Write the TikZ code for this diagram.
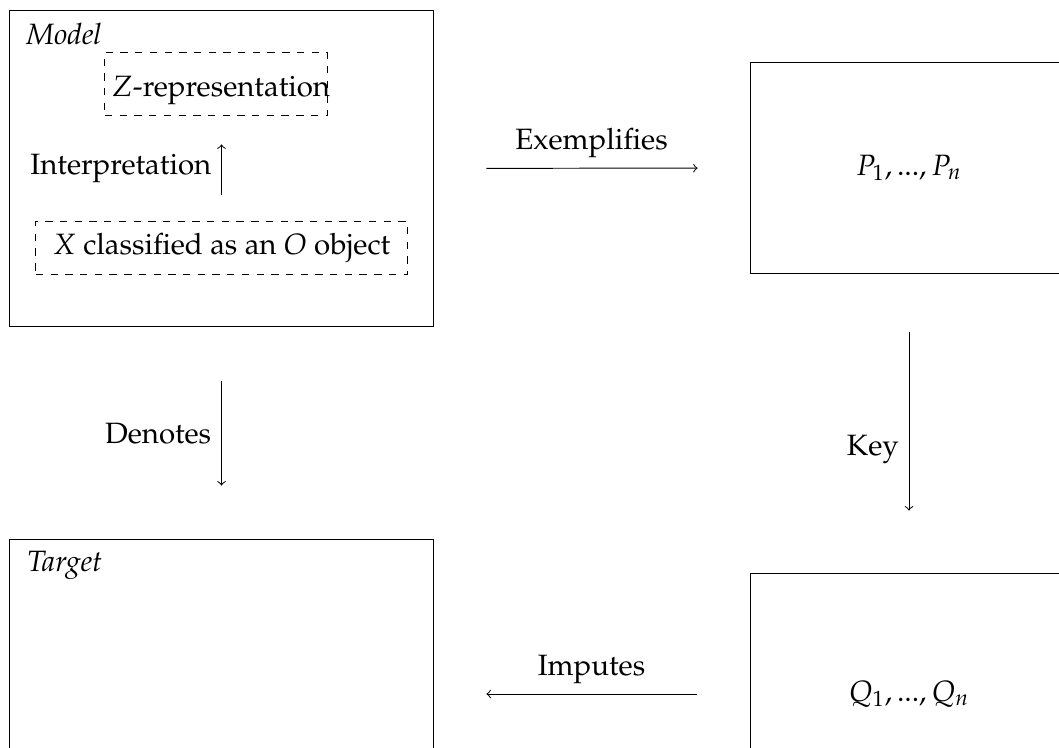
\documentclass[tikz,border=0pt,12pt]{standalone}
\usepackage[T1]{fontenc}
\usepackage{mathpazo}
\usepackage{amsmath, amssymb}

\begin{document}
\begin{tikzpicture}[x = 0.408pt, y = -0.408pt]
\tikzstyle{boxStyle} = [shape = rectangle, draw, inner sep = 0pt]
\tikzstyle{dashedStyle} = [shape = rectangle, draw, dashed, inner sep = 0pt]
\tikzstyle{textStyle} = [inner sep = 0pt]
\tikzstyle{arrowStyle} = [->]
\useasboundingbox (0, 0) rectangle (1059, 747);
\clip (0, 0) rectangle (1059, 747);
% boxes
\node[boxStyle, minimum width = 172.6pt, minimum height = 129.3pt] (model) at (221.5, 168.5) {};
\node[boxStyle, minimum width = 172.6pt, minimum height = 125.7pt] (target) at (221.5, 694) {};
\node[boxStyle, minimum width = 129.7pt, minimum height = 85.7pt] (p) at (909, 168) {$P_1, ..., P_n$};
\node[boxStyle, minimum width = 129.7pt, minimum height = 98.7pt] (q) at (909, 694) {$Q_1, ..., Q_n$};
\node[dashedStyle, minimum width = 90.6pt, minimum height = 26.1pt] (zrepBox) at (216, 84) {};
\node[dashedStyle, minimum width = 151.4pt, minimum height = 22pt] (xBox) at (221.5, 248) {};
% texts
\node[textStyle, anchor = base west] (modelLabel) at (26, 45) {\textit{Model}};
\node[textStyle, anchor = base west] (targetLabel) at (27, 571) {\textit{Target}};
\node[textStyle, anchor = base] (zrep) at (221, 97) {$Z$-representation};
\node[textStyle, anchor = base] (xText) at (221.5, 254) {$X$ classified as an $O$ object};
% arrows
\draw[arrowStyle, shorten <= 10.6pt, shorten >= 11.4pt] (xBox.north) -- (xBox.north |- zrepBox.south) node[midway, left] {Interpretation};
\draw[arrowStyle, shorten <= 21.6pt, shorten >= 21.2pt] (model) -- (p) node[midway, above] {Exemplifies};
\draw[arrowStyle, shorten <= 22pt, shorten >= 22pt] (model) -- (target) node[midway, left] {Denotes};
\draw[arrowStyle, shorten <= 23.7pt, shorten >= 25.3pt] (p) -- (q) node[pos = 0.59, left] {Key};
\draw[arrowStyle, shorten <= 21.6pt, shorten >= 21.6pt] (q) -- (target) node[midway, above] {Imputes};
\end{tikzpicture}
\end{document}
